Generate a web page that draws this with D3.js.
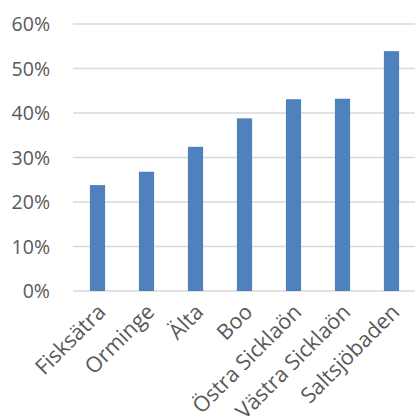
<!DOCTYPE html>
<html>
<head>
<meta charset="utf-8">
<script src="https://cdn.jsdelivr.net/npm/d3@7"></script>
<style>
  body { margin: 0; background: #fff; }
  text { font-family: "Open Sans", Lato, sans-serif; fill: #595959; }
</style>
</head>
<body>
<script>
const width = 415;
const height = 420;

const categories = ["Fisksätra", "Orminge", "Älta", "Boo", "Östra Sicklaön", "Västra Sicklaön", "Saltsjöbaden"];
const values = [0.238, 0.268, 0.324, 0.388, 0.431, 0.432, 0.539];
const yTicks = [0, 0.1, 0.2, 0.3, 0.4, 0.5, 0.6];

const margin = { top: 24, right: -1, bottom: 129, left: 73 };

const svg = d3.select("body").append("svg")
    .attr("width", width)
    .attr("height", height);

const x = d3.scaleBand()
    .domain(categories)
    .range([margin.left, width - margin.right])
    .paddingInner(0.69)
    .paddingOuter(0.345);

const y = d3.scaleLinear()
    .domain([0, 0.6])
    .range([height - margin.bottom, margin.top]);

// gridlines
svg.append("g")
    .selectAll("line")
    .data(yTicks)
    .enter()
    .append("line")
    .attr("x1", margin.left)
    .attr("x2", width - margin.right)
    .attr("y1", (d) => y(d))
    .attr("y2", (d) => y(d))
    .attr("stroke", "#d9d9d9")
    .attr("stroke-width", 1.3);

// y labels
svg.append("g")
    .selectAll("text")
    .data(yTicks)
    .enter()
    .append("text")
    .attr("x", 50)
    .attr("y", (d) => y(d))
    .attr("dy", "0.36em")
    .attr("text-anchor", "end")
    .attr("font-size", 19.5)
    .text(d3.format(".0%"));

// bars
svg.append("g")
    .selectAll("rect")
    .data(values)
    .enter()
    .append("rect")
    .attr("x", (d, i) => x(categories[i]))
    .attr("width", x.bandwidth())
    .attr("y", (d) => y(d))
    .attr("height", (d) => y(0) - y(d))
    .attr("fill", "#4f81bd");

// x labels
svg.append("g")
    .selectAll("text")
    .data(categories)
    .enter()
    .append("text")
    .attr("transform", (d) => "translate(" + (x(d) + x.bandwidth() / 2 + 4) + "," + (y(0) + 17) + ") rotate(-45)")
    .attr("text-anchor", "end")
    .attr("dy", "0.35em")
    .attr("font-size", 21.5)
    .text((d) => d);
</script>
</body>
</html>
